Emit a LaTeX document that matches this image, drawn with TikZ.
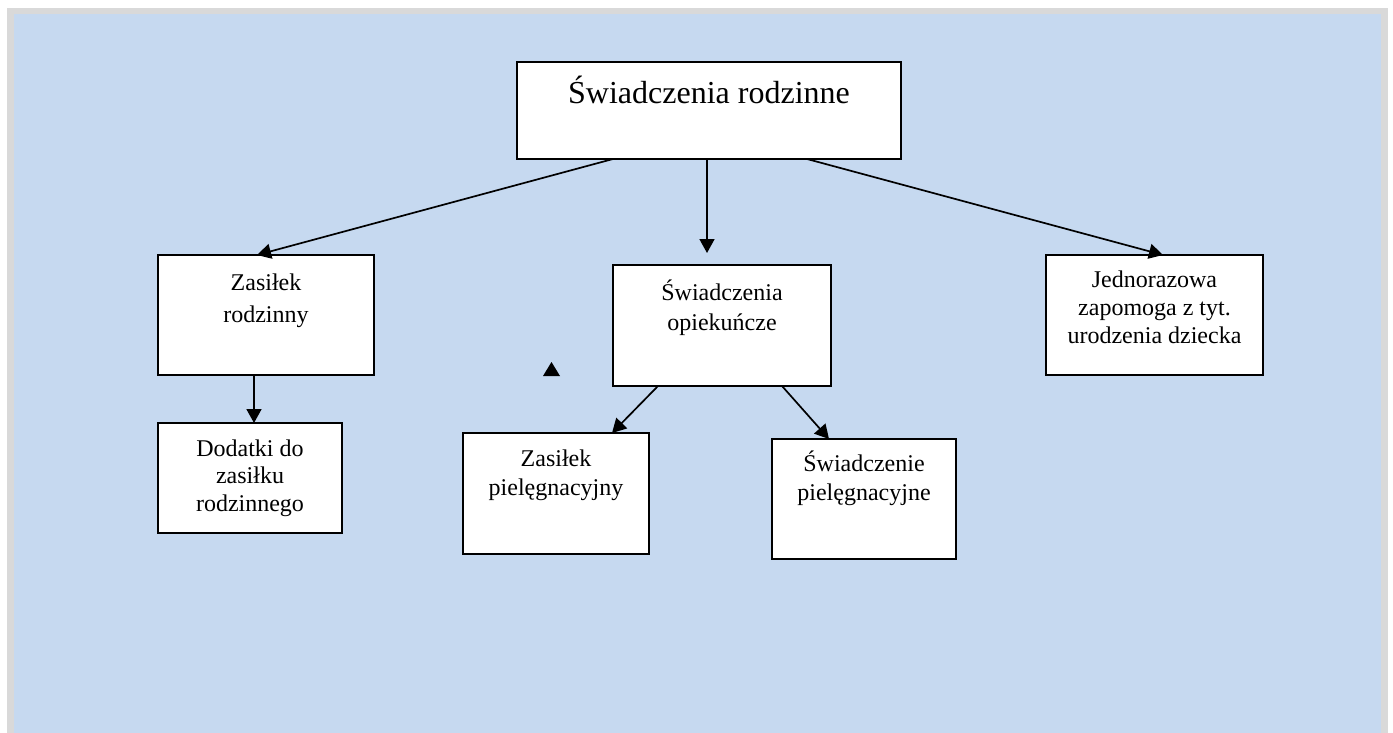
\documentclass[tikz,border=0pt]{standalone}
\usepackage{fontspec}
\setmainfont{Liberation Serif}
\usetikzlibrary{arrows.meta}
\definecolor{framegray}{RGB}{217,217,217}
\definecolor{bgblue}{RGB}{198,217,240}
\tikzset{
  box/.style={draw=black, line width=1.9pt, fill=white, inner sep=0pt, outer sep=0pt},
  txt/.style={align=center, inner sep=0pt, anchor=base},
  arr/.style={line width=1.7pt, -{Triangle[length=14pt,width=15pt]}},
}
\begin{document}
\begin{tikzpicture}[x=1pt,y=-1pt]
\useasboundingbox (0,0) rectangle (1393,733);
\fill[framegray] (7,8) rectangle (1388,733);
\fill[bgblue] (14,14) rectangle (1381,733);
% boxes
\node[box, minimum width=384, minimum height=97] (top) at (709,110.5) {};
\node[box, minimum width=216, minimum height=120] (zr) at (266,315) {};
\node[box, minimum width=184, minimum height=110] (dod) at (250,478) {};
\node[box, minimum width=218, minimum height=121] (opi) at (722,325.5) {};
\node[box, minimum width=186, minimum height=121] (zp) at (556,493.5) {};
\node[box, minimum width=184, minimum height=120] (sp) at (864,499) {};
\node[box, minimum width=217, minimum height=120] (jed) at (1154.5,315) {};
% texts
\node[txt, font=\fontsize{32}{38}\selectfont] (topt) at (709,104) {Świadczenia rodzinne};
\node[txt, font=\fontsize{24}{32}\selectfont] (zrt) at (266,322) {Zasiłek\\rodzinny};
\node[txt, font=\fontsize{24}{27.5}\selectfont] (dodt) at (250,511) {Dodatki do\\zasiłku\\rodzinnego};
\node[txt, font=\fontsize{24}{29.3}\selectfont] (opit) at (722,330) {Świadczenia\\opiekuńcze};
\node[txt, font=\fontsize{24}{29}\selectfont] (zpt) at (556,495) {Zasiłek\\pielęgnacyjny};
\node[txt, font=\fontsize{24}{29}\selectfont] (spt) at (864,500.7) {Świadczenie\\pielęgnacyjne};
\node[txt, font=\fontsize{24}{27.8}\selectfont] (jedt) at (1154.5,343.3) {Jednorazowa\\zapomoga z tyt.\\urodzenia dziecka};
% connectors
\draw[arr] ([xshift=-96pt]top.south) -- ([xshift=-9pt]zr.north);
\draw[arr] ([xshift=-2pt]top.south) -- ([xshift=-15pt,yshift=12pt]opi.north);
\draw[arr] ([xshift=98pt]top.south) -- ([xshift=8.5pt]jed.north);
\draw[arr] ([xshift=-12pt]zr.south) -- ([xshift=4pt]dod.north);
\draw[arr] ([xshift=-64pt]opi.south) -- ([xshift=56pt]zp.north);
\draw[arr] ([xshift=60pt]opi.south) -- ([xshift=-35pt]sp.north);
% stray arrowhead
\fill[black] (543,376) -- (560,376) -- (551.5,362) -- cycle;
\end{tikzpicture}
\end{document}
